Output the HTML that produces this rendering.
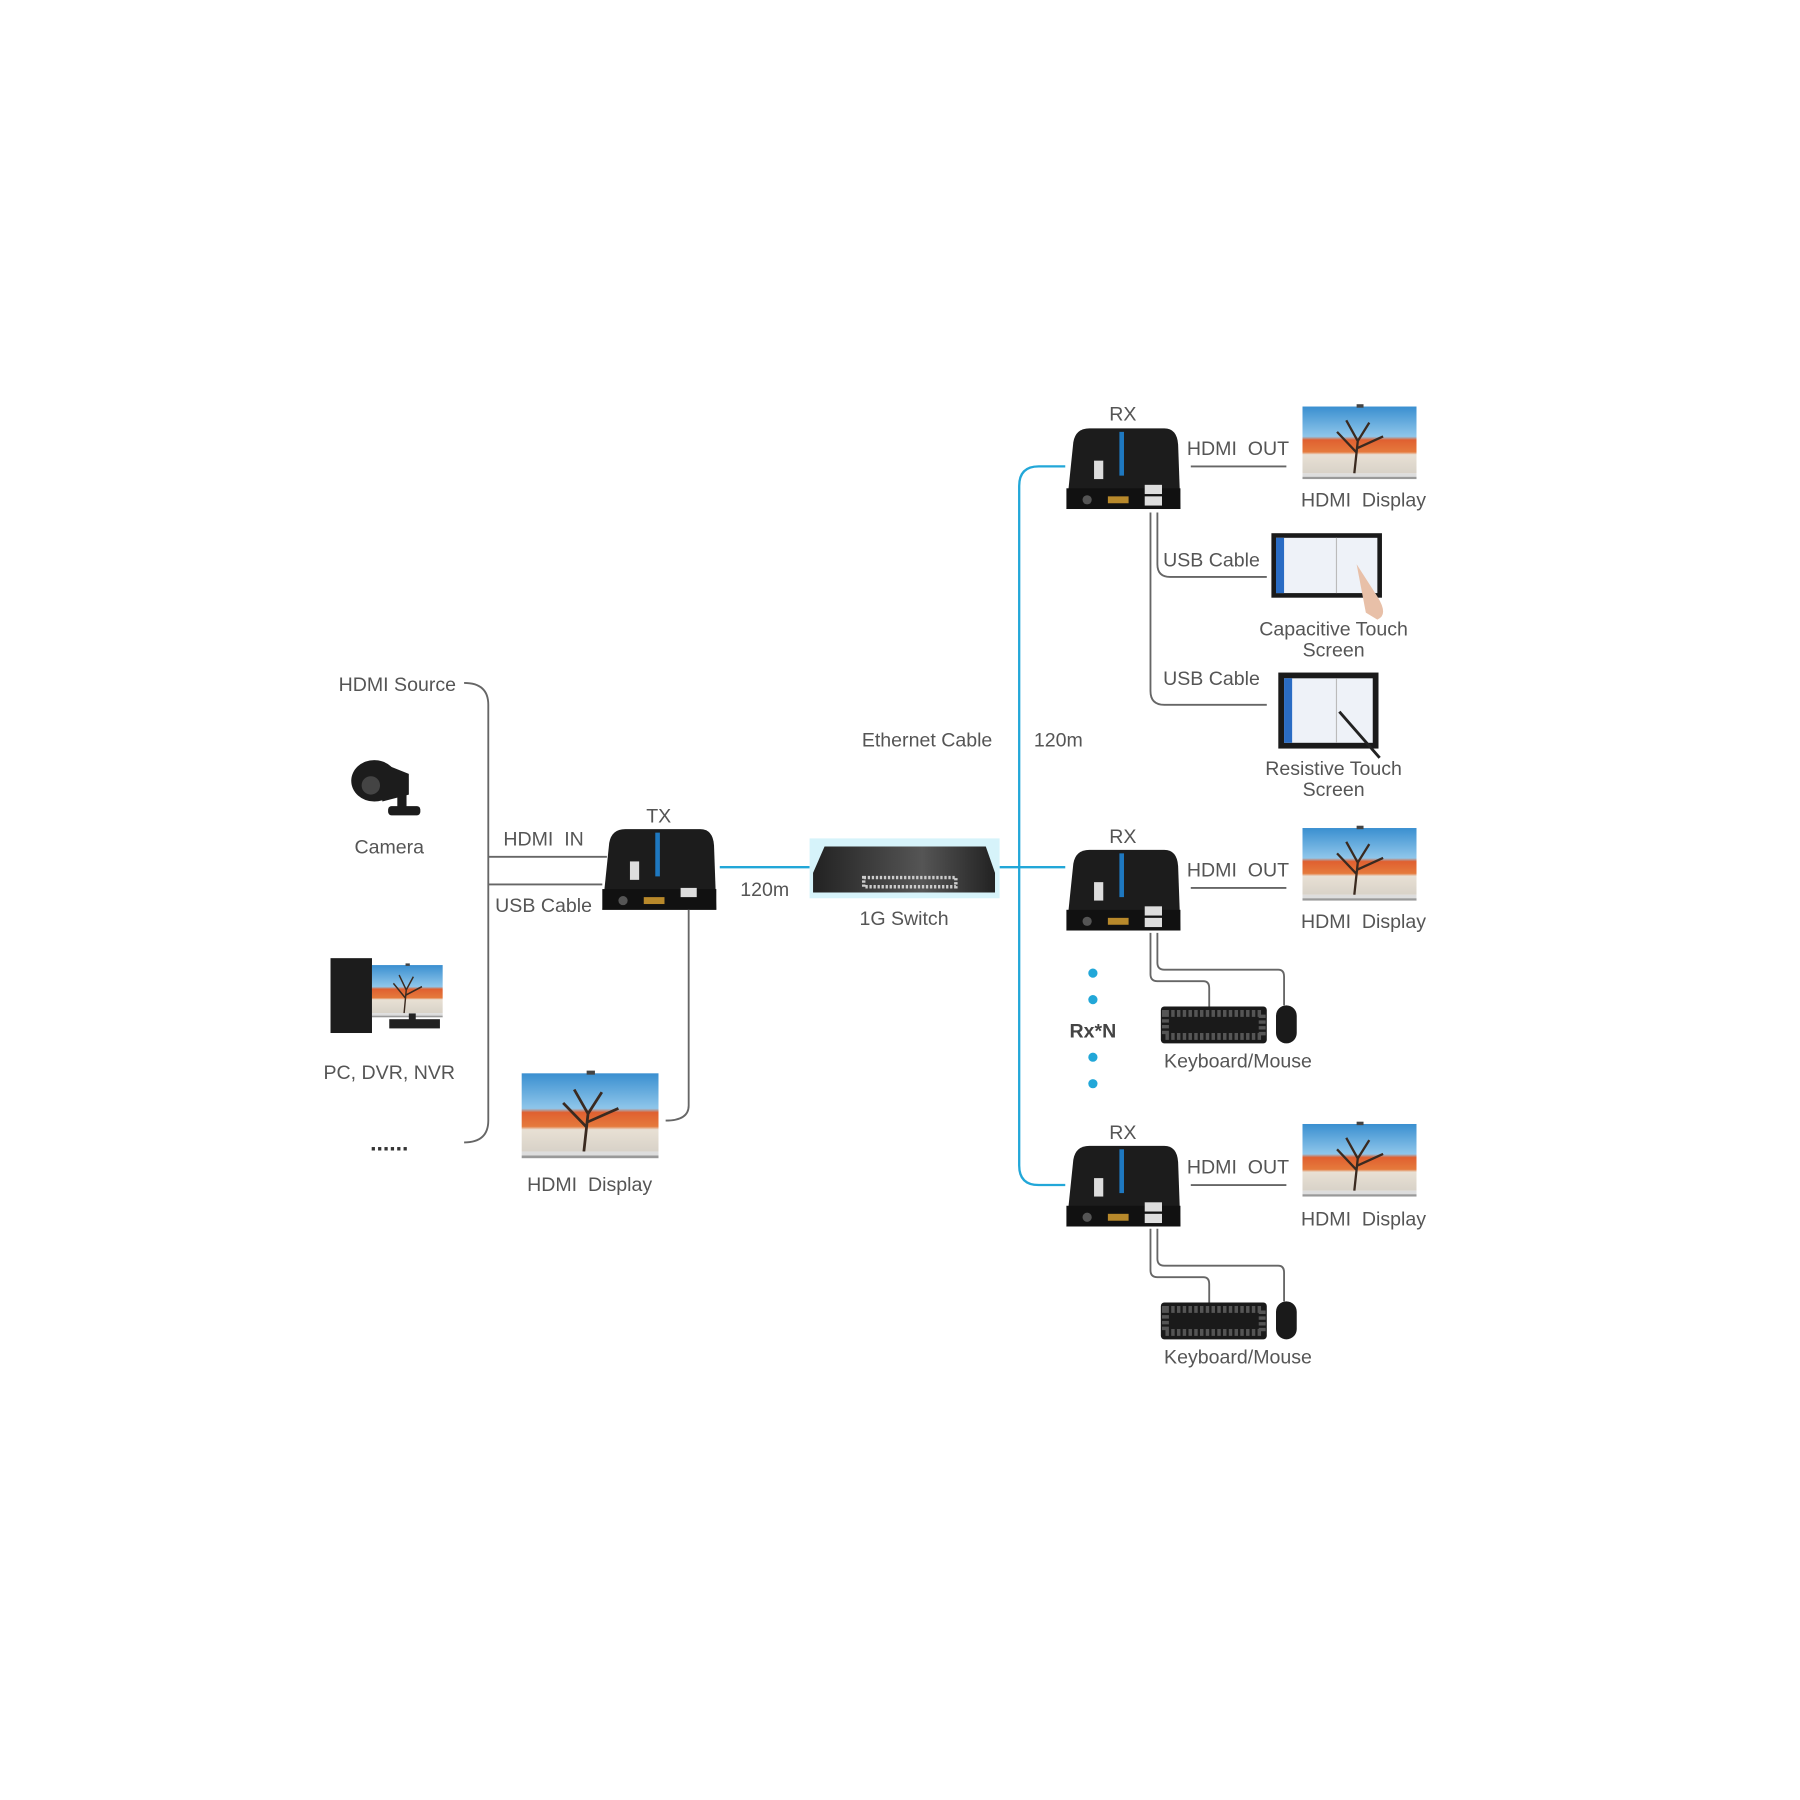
<!DOCTYPE html>
<html><head><meta charset="utf-8"><style>
html,body{margin:0;padding:0;background:#fff;width:1800px;height:1800px;overflow:hidden}
svg{display:block}
text{font-family:"Liberation Sans",sans-serif;fill:#555;font-size:17px;text-anchor:middle}
</style></head><body>
<svg width="1800" height="1800" viewBox="0 0 1563 1563" xmlns="http://www.w3.org/2000/svg">
<defs>
<linearGradient id="sky" x1="0" y1="0" x2="0" y2="1"><stop offset="0" stop-color="#3a8fd0"/><stop offset="0.45" stop-color="#8fc6ea"/><stop offset="0.5" stop-color="#e06030"/><stop offset="0.68" stop-color="#e57a3c"/><stop offset="0.72" stop-color="#e8e0d4"/><stop offset="1" stop-color="#d8d2c8"/></linearGradient>
<linearGradient id="sw" x1="0" y1="0" x2="1" y2="0"><stop offset="0" stop-color="#222"/><stop offset="0.6" stop-color="#555"/><stop offset="1" stop-color="#222"/></linearGradient>
<g id="tv">
 <rect x="0" y="0" width="99" height="58" fill="url(#sky)"/>
 <path d="M45 58 L48 30 L38 12 M48 30 L58 14 M47 40 L30 22 M48 36 L70 26" stroke="#3a2a20" stroke-width="2" fill="none"/>
 <rect x="0" y="58" width="99" height="3" fill="#ddd"/>
 <rect x="0" y="61" width="99" height="2" fill="#999"/>
 <rect x="47" y="-2" width="6" height="3" fill="#444"/>
</g>
<g id="box">
 <path d="M6 12 Q8 0 20 0 L85 0 Q96 0 97 14 L99 70 L0 70 Z" fill="#1c1c1c"/>
 <rect x="0" y="52" width="99" height="18" fill="#111"/>
 <rect x="46" y="3" width="4" height="38" fill="#1e78c0"/>
 <rect x="24" y="28" width="8" height="16" fill="#ddd"/>
 <circle cx="18" cy="62" r="4" fill="#555"/>
 <rect x="36" y="59" width="18" height="6" fill="#b8892b"/>
</g>
<g id="usb2">
 <rect x="68" y="49" width="15" height="8" fill="#ddd"/><rect x="68" y="59" width="15" height="8" fill="#ddd"/>
</g>
<g id="kb">
 <rect x="0" y="0" width="92" height="32" rx="3" fill="#1a1a1a"/>
 <rect x="4" y="6" width="84" height="20" fill="none" stroke="#555" stroke-dasharray="3 2" stroke-width="6"/>
 <rect x="100" y="-1" width="18" height="33" rx="9" fill="#1a1a1a"/>
</g>
</defs>

<path d="M403 593 Q424 593 424 612 L424 973 Q424 992 403 992" stroke="#666" stroke-width="1.6" fill="none"/>
<text x="345" y="600">HDMI Source</text>
<g fill="#1c1c1c"><ellipse cx="325" cy="678" rx="20" ry="18"/><path d="M330 662 L355 672 L355 690 L332 696 Z"/><rect x="345" y="690" width="8" height="14"/><rect x="337" y="700" width="28" height="8" rx="3"/></g>
<circle cx="322" cy="682" r="8" fill="#444"/>
<text x="338" y="741">Camera</text>
<rect x="287" y="832" width="36" height="65" fill="#1c1c1c"/>
<use href="#tv" transform="translate(323,838) scale(0.62,0.72)"/>
<rect x="355" y="880" width="6" height="6" fill="#222"/>
<rect x="338" y="885" width="44" height="8" fill="#222"/>
<text x="338" y="937">PC, DVR, NVR</text>
<text x="338" y="999" style="font-weight:bold;font-size:20px;fill:#333">......</text>

<line x1="424" y1="744" x2="527" y2="744" stroke="#666" stroke-width="1.6"/>
<line x1="424" y1="768" x2="523" y2="768" stroke="#666" stroke-width="1.6"/>
<text x="472" y="734">HDMI&#160;&#160;IN</text>
<text x="472" y="792">USB Cable</text>
<text x="572" y="714">TX</text>
<use href="#box" transform="translate(523,720)"/>
<rect x="591" y="771" width="14" height="8" fill="#ddd"/>
<path d="M598 790 L598 960 Q598 973 578 973" stroke="#666" stroke-width="1.6" fill="none"/>
<use href="#tv" transform="translate(453,932) scale(1.2,1.17)"/>
<text x="512" y="1034">HDMI&#160;&#160;Display</text>

<g stroke="#22a7d8" stroke-width="2" fill="none">
<line x1="625" y1="753" x2="703" y2="753"/>
<line x1="868" y1="753" x2="925" y2="753"/>
<path d="M925 405 L902 405 Q885 405 885 422 L885 1012 Q885 1029 902 1029 L925 1029"/>
</g>
<text x="664" y="778">120m</text>
<rect x="703" y="728" width="165" height="52" fill="#d6f3fa"/>
<path d="M716 735 L856 735 L864 758 L864 775 L706 775 L706 758 Z" fill="url(#sw)"/>
<rect x="750" y="762" width="80" height="8" fill="none" stroke="#ccc" stroke-dasharray="2 1.5" stroke-width="3"/>
<text x="785" y="803">1G Switch</text>
<text x="805" y="648">Ethernet Cable</text>
<text x="919" y="648">120m</text>

<g>
<text x="975" y="365">RX</text><use href="#box" transform="translate(926,372)"/><use href="#usb2" transform="translate(926,372)"/>
<text x="975" y="732">RX</text><use href="#box" transform="translate(926,738)"/><use href="#usb2" transform="translate(926,738)"/>
<text x="975" y="989">RX</text><use href="#box" transform="translate(926,995)"/><use href="#usb2" transform="translate(926,995)"/>
</g>
<g stroke="#666" stroke-width="1.6" fill="none">
<line x1="1034" y1="405" x2="1117" y2="405"/>
<line x1="1034" y1="771" x2="1117" y2="771"/>
<line x1="1034" y1="1029" x2="1117" y2="1029"/>
<path d="M1005 445 L1005 490 Q1005 501 1016 501 L1100 501"/>
<path d="M999 445 L999 600 Q999 612 1011 612 L1100 612"/>
<path d="M999 810 L999 846 Q999 852 1005 852 L1045 852 Q1050 852 1050 858 L1050 875"/>
<path d="M1005 810 L1005 836 Q1005 842 1011 842 L1110 842 Q1115 842 1115 848 L1115 873"/>
<path d="M999 1067 L999 1103 Q999 1109 1005 1109 L1045 1109 Q1050 1109 1050 1115 L1050 1132"/>
<path d="M1005 1067 L1005 1093 Q1005 1099 1011 1099 L1110 1099 Q1115 1099 1115 1105 L1115 1130"/>
</g>
<text x="1075" y="395">HDMI&#160;&#160;OUT</text>
<text x="1075" y="761">HDMI&#160;&#160;OUT</text>
<text x="1075" y="1019">HDMI&#160;&#160;OUT</text>
<use href="#tv" transform="translate(1131,353)"/><use href="#tv" transform="translate(1131,719)"/><use href="#tv" transform="translate(1131,976)"/>
<text x="1184" y="440">HDMI&#160;&#160;Display</text>
<text x="1184" y="806">HDMI&#160;&#160;Display</text>
<text x="1184" y="1064">HDMI&#160;&#160;Display</text>
<text x="1052" y="492">USB Cable</text>
<text x="1052" y="595">USB Cable</text>
<rect x="1104" y="463" width="96" height="56" fill="#1a1a1a"/><rect x="1108" y="467" width="88" height="48" fill="#eef2f8"/><rect x="1108" y="467" width="7" height="48" fill="#2a6cc4"/><rect x="1160" y="467" width="1" height="48" fill="#bbb"/>
<path d="M1178 490 L1196 518 Q1206 534 1196 538 L1186 532 Z" fill="#e8c0a8"/>
<text x="1158" y="552">Capacitive Touch</text><text x="1158" y="570">Screen</text>
<rect x="1110" y="584" width="87" height="66" fill="#1a1a1a"/><rect x="1115" y="589" width="77" height="56" fill="#eef2f8"/><rect x="1115" y="589" width="7" height="56" fill="#2a6cc4"/><rect x="1160" y="589" width="1" height="56" fill="#bbb"/>
<line x1="1163" y1="618" x2="1198" y2="658" stroke="#222" stroke-width="2.5"/>
<text x="1158" y="673">Resistive Touch</text><text x="1158" y="691">Screen</text>
<use href="#kb" transform="translate(1008,874)"/>
<use href="#kb" transform="translate(1008,1131)"/>
<text x="1075" y="927">Keyboard/Mouse</text>
<text x="1075" y="1184">Keyboard/Mouse</text>
<g fill="#22a7d8"><circle cx="949" cy="845" r="4"/><circle cx="949" cy="868" r="4"/><circle cx="949" cy="918" r="4"/><circle cx="949" cy="941" r="4"/></g>
<text x="949" y="901" style="font-weight:bold;fill:#444">Rx*N</text>
</svg>
</body></html>
